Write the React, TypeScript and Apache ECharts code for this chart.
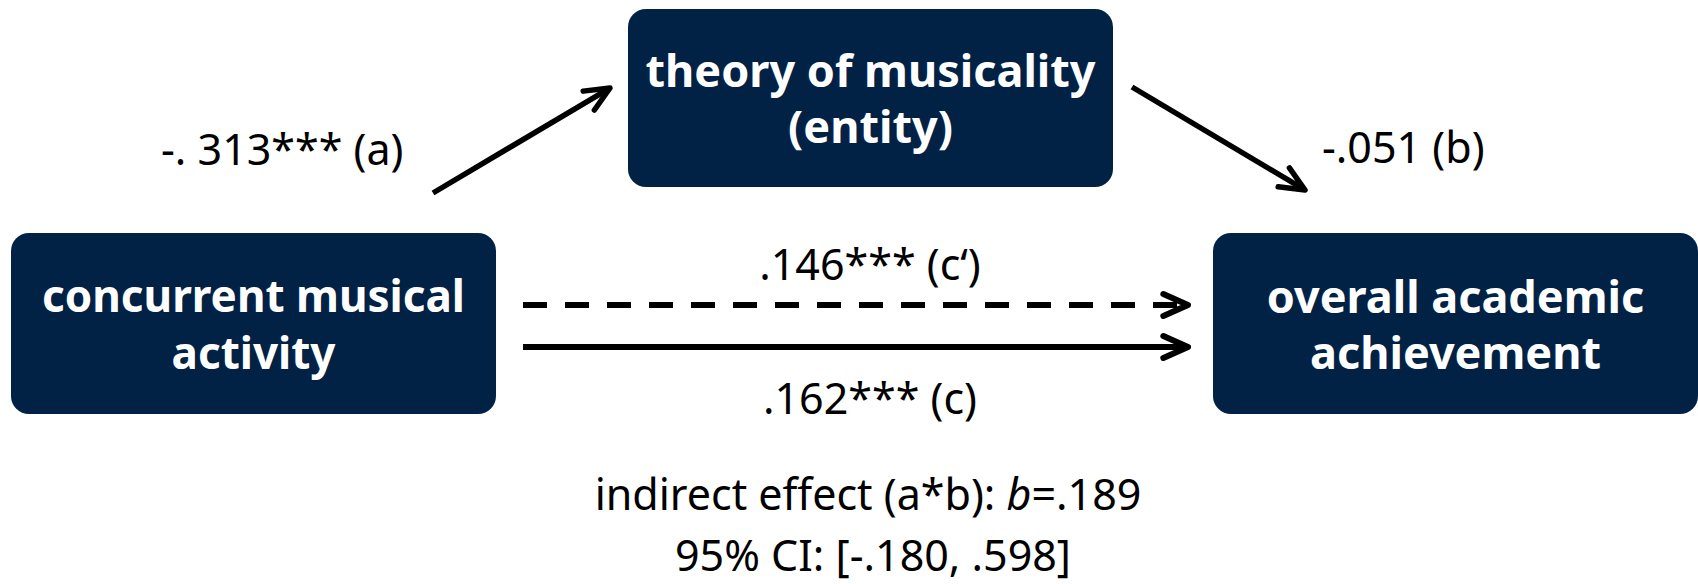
import React, { useEffect, useRef } from "react";
import * as echarts from "echarts";

// ---- diagram content ----
const nodeLabels = ["concurrent musical\nactivity", "theory of musicality\n(entity)", "overall academic\nachievement"];
const pathLabels = ["-. 313*** (a)", "-.051 (b)", ".146*** (c\u2018)", ".162*** (c)"];
const indirectParts = ["indirect effect (a*b): ", "b", "=.189"];
const ciLabel = "95% CI: [-.180, .598]";

const NAVY = "#012145";
const INK = "#000000";
const LABEL_FONT = '"Noto Sans", "Open Sans", sans-serif';

function chevron(tail: number[], tip: number[], len: number, ang: number) {
  const dx = tip[0] - tail[0];
  const dy = tip[1] - tail[1];
  const d = Math.hypot(dx, dy);
  const ux = dx / d, uy = dy / d;
  const rot = (a: number) => [
    tip[0] - len * (ux * Math.cos(a) - uy * Math.sin(a)),
    tip[1] - len * (ux * Math.sin(a) + uy * Math.cos(a)),
  ];
  return [rot(ang), tip, rot(-ang)];
}

function arrow(tail: number[], tip: number[], width: number, dash?: number[]) {
  const out: any[] = [];
  out.push({
    type: "line",
    shape: { x1: tail[0], y1: tail[1], x2: tip[0] - (tip[0] - tail[0]) * 0.01, y2: tip[1] - (tip[1] - tail[1]) * 0.01 },
    style: { stroke: INK, lineWidth: width, lineDash: dash || null, lineCap: "butt" },
  });
  out.push({
    type: "polyline",
    shape: { points: chevron(tail, tip, 27, (24 * Math.PI) / 180) },
    style: { stroke: INK, lineWidth: width, fill: null, lineCap: "round", lineJoin: "round" },
  });
  return out;
}

export default function App() {
  const ref = useRef<HTMLDivElement>(null);
  useEffect(() => {
    if (!ref.current) return;
    const chart = echarts.init(ref.current, undefined, { renderer: "svg" });
    const boxes = [
      { x: 11, y: 233, w: 485, h: 181 },
      { x: 628, y: 9, w: 485, h: 178 },
      { x: 1213, y: 233, w: 485, h: 181 },
    ];
    const lineH = [57, 56, 56];
    const fontS = [44, 45, 45];
    const elements: any[] = [];
    boxes.forEach((b, i) => {
      elements.push({
        type: "rect",
        shape: { x: b.x, y: b.y, width: b.w, height: b.h, r: 18 },
        style: { fill: NAVY },
      });
      elements.push({
        type: "text",
        style: {
          text: nodeLabels[i],
          x: b.x + b.w / 2,
          y: b.y + b.h / 2 - (i === 1 ? 1 : 0),
          textAlign: "center",
          textVerticalAlign: "middle",
          fontFamily: '"Noto Sans", "Open Sans", sans-serif',
          fontWeight: "bold",
          fontSize: fontS[i],
          lineHeight: lineH[i],
          fill: "#ffffff",
        },
      });
    });

    // arrows
    elements.push(...arrow([433, 193], [610, 88], 5.5));
    elements.push(...arrow([1132, 87], [1305, 190], 5.5));
    elements.push(...arrow([523, 305], [1188, 305], 6, [24, 18]));
    elements.push(...arrow([523, 347], [1188, 347], 6));

    const lab = (text: string, x: number, y: number, align: string) => ({
      type: "text",
      style: {
        text,
        x,
        y,
        textAlign: align,
        textVerticalAlign: "middle",
        fontFamily: LABEL_FONT,
        fontSize: 43,
        fill: INK,
      },
    });
    elements.push(lab(pathLabels[0], 161, 148, "left"));
    elements.push(lab(pathLabels[1], 1322, 146, "left"));
    elements.push(lab(pathLabels[2], 870, 263, "center"));
    elements.push(lab(pathLabels[3], 870, 397, "center"));

    elements.push({
      type: "text",
      style: {
        text: indirectParts[0] + "{i|" + indirectParts[1] + "}" + indirectParts[2],
        x: 868,
        y: 493,
        textAlign: "center",
        textVerticalAlign: "middle",
        fontFamily: LABEL_FONT,
        fontSize: 43,
        fill: INK,
        rich: { i: { fontStyle: "italic", fontFamily: LABEL_FONT, fontSize: 43, fill: INK } },
      },
    });
    elements.push(lab(ciLabel, 873, 554, "center"));

    chart.setOption({
      animation: false,
      backgroundColor: "#ffffff",
      graphic: { elements },
    });
    return () => chart.dispose();
  }, []);
  return (
    <div
      ref={ref}
      style={{ position: "fixed", left: 0, top: 0, width: 1698, height: 584, background: "#fff" }}
    />
  );
}
